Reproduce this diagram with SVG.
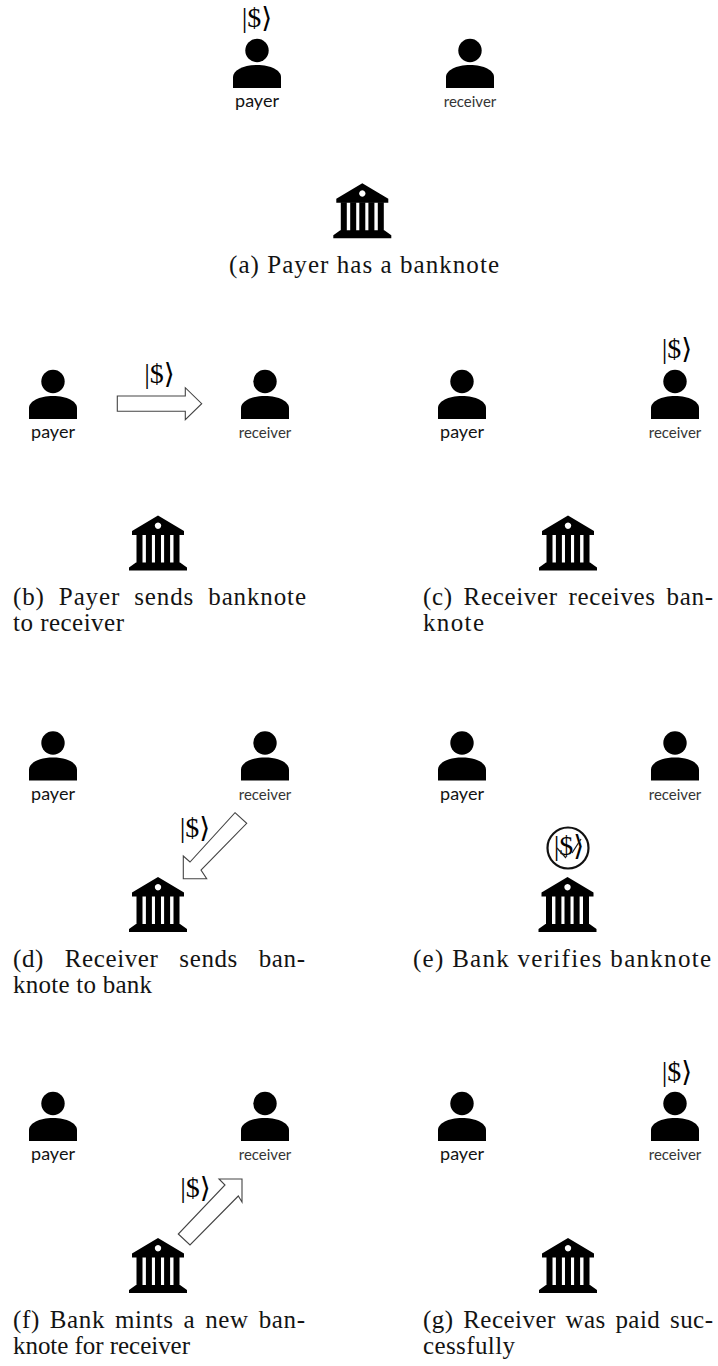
<svg xmlns="http://www.w3.org/2000/svg" width="718" height="1366" viewBox="0 0 718 1366">
<style>
.cap{font-family:"Liberation Serif","Times New Roman",serif;font-size:25px;fill:#111;opacity:.99}
.pay{font-family:Lato,"Open Sans",sans-serif;font-size:18px;fill:#111;text-anchor:middle;opacity:.99}
.rec{font-family:Lato,"Open Sans",sans-serif;font-size:15px;fill:#333;text-anchor:middle;opacity:.99}
.ket{font-family:"Liberation Serif","DejaVu Serif",serif;font-size:28px;fill:#000;text-anchor:middle;opacity:.99}
.arr{fill:#fff;stroke:#444;stroke-width:1.1}
</style>
<defs>
<g id="person"><circle cx="0" cy="0" r="11.7"/><path d="M-24 37.5V26.5C-24 20 -14 14.5 0 14.5S24 20 24 26.5V37.5Z"/></g>
<g id="bank"><path fill-rule="evenodd" d="M0 0L26 15.5V19.5H-26V15.5ZM0 7a3.2 3.2 0 1 0 .01 0Z"/><path d="M-21.5 19h6v29h-6zM-12.1 19h6v29h-6zM-3 19h6v29h-6zM6.1 19h6v29h-6zM15.5 19h6v29h-6zM-22 47H22L29 52V55H-29V52Z"/></g>
</defs>
<g id="connectors">
<path class="arr" d="M117.3 396H185.3V387.7L201.7 403.7L185.3 419.7V411.3H117.3Z"/>
<path class="arr" d="M235 812.7L246.7 823.3L201 870L206.7 878.7H183.3V856L190 862Z"/>
<path class="arr" d="M178.3 1234L190 1245L238.3 1196L242 1202V1179H219L225 1185Z"/>
</g>
<g id="panel-a"><use href="#person" x="257" y="50.5"/><text class="pay" x="257" y="106.5">payer</text><use href="#person" x="470" y="50.5"/><text class="rec" x="470" y="107">receiver</text><text class="ket" x="257" y="27">|$⟩</text><use href="#bank" x="362.3" y="183.3"/><text class="cap" x="229" y="273" textLength="270">(a) Payer has a banknote</text></g>
<g id="panel-b"><use href="#person" x="53" y="381.5"/><text class="pay" x="53" y="437.5">payer</text><use href="#person" x="265" y="381.5"/><text class="rec" x="265" y="438">receiver</text><text class="ket" x="159.5" y="383">|$⟩</text><use href="#bank" x="158" y="515.5"/><text class="cap" x="13" y="605" word-spacing="7" textLength="293">(b) Payer sends banknote</text><text class="cap" x="13" y="631" textLength="111">to receiver</text></g>
<g id="panel-c"><use href="#person" x="462" y="381.5"/><text class="pay" x="462" y="437.5">payer</text><use href="#person" x="675" y="381.5"/><text class="rec" x="675" y="438">receiver</text><text class="ket" x="677" y="358">|$⟩</text><use href="#bank" x="568" y="515.5"/><text class="cap" x="423" y="605" word-spacing="4" textLength="290">(c) Receiver receives ban-</text><text class="cap" x="423" y="631" textLength="61">knote</text></g>
<g id="panel-d"><use href="#person" x="53" y="743"/><text class="pay" x="53" y="799.5">payer</text><use href="#person" x="265" y="743"/><text class="rec" x="265" y="800">receiver</text><text class="ket" x="195" y="837">|$⟩</text><use href="#bank" x="158" y="877"/><text class="cap" x="13" y="967" word-spacing="14" textLength="292">(d) Receiver sends ban-</text><text class="cap" x="13" y="993" textLength="139">knote to bank</text></g>
<g id="panel-e"><use href="#person" x="462" y="743"/><text class="pay" x="462" y="799.5">payer</text><use href="#person" x="675" y="743"/><text class="rec" x="675" y="800">receiver</text><circle cx="568" cy="848" r="20.5" fill="none" stroke="#111" stroke-width="2.2"/><text class="ket" x="569" y="855">|$⟩</text><path d="M557 848L566 858M572 853L581 839" fill="none" stroke="#222" stroke-width="1.3"/><use href="#bank" x="567.5" y="877"/><text class="cap" x="413" y="967" textLength="298">(e) Bank verifies banknote</text></g>
<g id="panel-f"><use href="#person" x="53" y="1103.5"/><text class="pay" x="53" y="1159.5">payer</text><use href="#person" x="265" y="1103.5"/><text class="rec" x="265" y="1160">receiver</text><text class="ket" x="195.5" y="1197">|$⟩</text><use href="#bank" x="158" y="1238"/><text class="cap" x="13" y="1328" word-spacing="3" textLength="292">(f) Bank mints a new ban-</text><text class="cap" x="13" y="1354" textLength="177">knote for receiver</text></g>
<g id="panel-g"><use href="#person" x="462" y="1103.5"/><text class="pay" x="462" y="1159.5">payer</text><use href="#person" x="675" y="1103.5"/><text class="rec" x="675" y="1160">receiver</text><text class="ket" x="677" y="1081">|$⟩</text><use href="#bank" x="568" y="1238"/><text class="cap" x="423" y="1328" word-spacing="3" textLength="290">(g) Receiver was paid suc-</text><text class="cap" x="423" y="1354" textLength="92">cessfully</text></g>
</svg>
